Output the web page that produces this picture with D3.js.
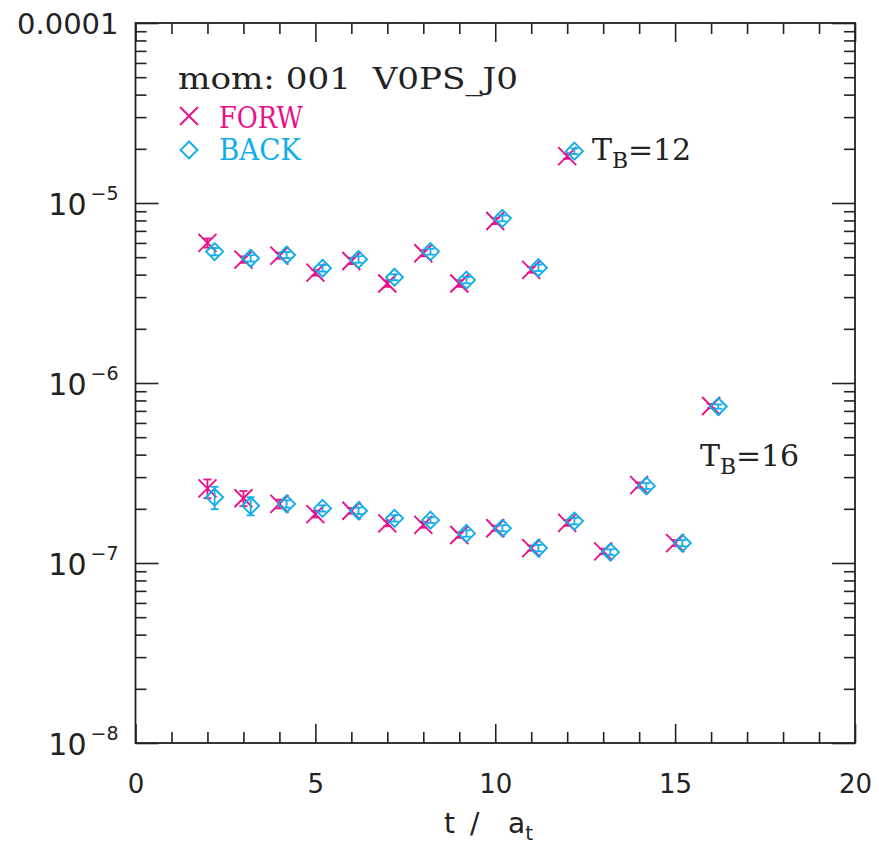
<!DOCTYPE html>
<html>
<head>
<meta charset="utf-8">
<script src="https://cdn.jsdelivr.net/npm/d3@7"></script>
<style>
  body { margin: 0; background: #fff; }
  svg { display: block; }
  .tick line { stroke: #222; stroke-width: 1.6; }
  .serif { font-family: "DejaVu Serif", serif; white-space: pre; }
</style>
</head>
<body>
<div id="chart"></div>
<script>
// t / a_t values for each source time T_B
const tB12_t = [2, 3, 4, 5, 6, 7, 8, 9, 10, 11, 12];
const tB12_forw = [6.0e-6, 4.85e-6, 5.10e-6, 4.10e-6, 4.76e-6, 3.57e-6, 5.26e-6, 3.57e-6, 7.94e-6, 4.25e-6, 1.82e-5];
const tB12_forwErr = [0.35e-6, 0.2e-6, 0.2e-6, 0.15e-6, 0.18e-6, 0.15e-6, 0.2e-6, 0.15e-6, 0.3e-6, 0.15e-6, 0.6e-6];
const tB12_back = [5.37e-6, 4.93e-6, 5.14e-6, 4.34e-6, 4.86e-6, 3.87e-6, 5.37e-6, 3.73e-6, 8.22e-6, 4.37e-6, 1.94e-5];
const tB12_backErr = [0.25e-6, 0.2e-6, 0.2e-6, 0.18e-6, 0.2e-6, 0.15e-6, 0.2e-6, 0.15e-6, 0.3e-6, 0.18e-6, 0.7e-6];

const tB16_t = [2, 3, 4, 5, 6, 7, 8, 9, 10, 11, 12, 13, 14, 15, 16];
const tB16_forw = [2.60e-7, 2.29e-7, 2.13e-7, 1.87e-7, 1.95e-7, 1.66e-7, 1.63e-7, 1.43e-7, 1.56e-7, 1.21e-7, 1.67e-7, 1.16e-7, 2.71e-7, 1.29e-7, 7.45e-7];
const tB16_forwErr = [0.31e-7, 0.22e-7, 0.12e-7, 0.08e-7, 0.07e-7, 0.06e-7, 0.06e-7, 0.05e-7, 0.05e-7, 0.04e-7, 0.06e-7, 0.04e-7, 0.09e-7, 0.05e-7, 0.2e-7];
const tB16_back = [2.32e-7, 2.08e-7, 2.13e-7, 2.01e-7, 1.95e-7, 1.77e-7, 1.73e-7, 1.46e-7, 1.56e-7, 1.21e-7, 1.71e-7, 1.15e-7, 2.68e-7, 1.29e-7, 7.40e-7];
const tB16_backErr = [0.33e-7, 0.24e-7, 0.1e-7, 0.08e-7, 0.08e-7, 0.07e-7, 0.06e-7, 0.06e-7, 0.06e-7, 0.05e-7, 0.07e-7, 0.04e-7, 0.1e-7, 0.05e-7, 0.2e-7];

const xMajor = [0, 5, 10, 15, 20];
const xMinor = d3.range(0, 21, 1);
const yMajor = [1e-8, 1e-7, 1e-6, 1e-5, 1e-4];

const FORW = "#e8118a";
const BACK = "#10aee8";
const backShift = 0.2;   // BACK points are drawn slightly to the right

const width = 879, height = 848;
const x = d3.scaleLinear().domain([0, 20]).range([135.5, 855]);
const y = d3.scaleLog().domain([1e-8, 1e-4]).range([743, 23]);

const svg = d3.select("#chart").append("svg")
    .attr("width", width)
    .attr("height", height);

// minor log ticks 2..9 in every decade
let yMinor = [];
yMajor.slice(0, -1).forEach(d => {
    for (let k = 2; k <= 9; k++) yMinor.push(d * k);
});

function addAxis(axis, tx, ty) {
    let g = svg.append("g").attr("transform", `translate(${tx},${ty})`).call(axis);
    g.select(".domain").remove();
    return g;
}

// x axes (ticks pointing inward)
let xb = addAxis(d3.axisBottom(x).tickValues(xMajor).tickSize(-19).tickPadding(32).tickFormat(d3.format("d")), 0, 743);
xb.selectAll("text").attr("font-family", "DejaVu Sans").attr("font-size", 26).attr("fill", "#222");
addAxis(d3.axisBottom(x).tickValues(xMinor.filter(d => d % 5)).tickSize(-11).tickFormat(""), 0, 743);
addAxis(d3.axisTop(x).tickValues(xMajor).tickSize(-19).tickFormat(""), 0, 23);
addAxis(d3.axisTop(x).tickValues(xMinor.filter(d => d % 5)).tickSize(-11).tickFormat(""), 0, 23);

// y axes
let yl = addAxis(d3.axisLeft(y).tickValues(yMajor).tickSize(-23).tickPadding(17), 135.5, 0);
addAxis(d3.axisLeft(y).tickValues(yMinor).tickSize(-11).tickFormat(""), 135.5, 0);
addAxis(d3.axisRight(y).tickValues(yMajor).tickSize(-23).tickFormat(""), 855, 0);
addAxis(d3.axisRight(y).tickValues(yMinor).tickSize(-11).tickFormat(""), 855, 0);

yl.selectAll("text").each(function(d) {
    let t = d3.select(this).text(null)
        .attr("font-family", "DejaVu Sans").attr("fill", "#222");
    let e = Math.round(Math.log10(d));
    if (e === -4) {
        t.attr("font-size", 29).attr("dy", "0.36em").text("0.0001");
    } else {
        t.attr("font-size", 30).attr("dy", "0.38em");
        t.append("tspan").text("10");
        t.append("tspan").attr("font-size", 19).attr("dy", -15).attr("dx", 4).text("\u2212" + (-e));
    }
});

// frame
svg.append("rect")
    .attr("x", x(0)).attr("y", y(1e-4))
    .attr("width", x(20) - x(0)).attr("height", y(1e-8) - y(1e-4))
    .attr("fill", "none").attr("stroke", "#222").attr("stroke-width", 1.8);

// x label  "t / a_t"
let xl = svg.append("text")
    .attr("y", 833)
    .attr("font-family", "DejaVu Sans").attr("font-size", 28).attr("fill", "#222");
xl.append("tspan").attr("x", 444).text("t");
xl.append("tspan").attr("x", 470).text("/");
xl.append("tspan").attr("x", 508).text("a");
xl.append("tspan").attr("font-size", 20).attr("dy", 7).text("t");

// data
function build(ts, vals, errs, shift) {
    return ts.map((t, i) => ({ t: t + shift, v: vals[i], e: errs[i] }));
}
const forwPts = build(tB12_t, tB12_forw, tB12_forwErr, 0).concat(build(tB16_t, tB16_forw, tB16_forwErr, 0));
const backPts = build(tB12_t, tB12_back, tB12_backErr, backShift).concat(build(tB16_t, tB16_back, tB16_backErr, backShift));

function errorBars(pts, color) {
    let g = svg.append("g").attr("stroke", color).attr("stroke-width", 1.8).attr("fill", "none");
    pts.forEach(p => {
        let cx = x(p.t), y0 = y(p.v - p.e), y1 = y(p.v + p.e);
        g.append("line").attr("x1", cx).attr("x2", cx).attr("y1", y0).attr("y2", y1);
        g.append("line").attr("x1", cx - 4).attr("x2", cx + 4).attr("y1", y0).attr("y2", y0);
        g.append("line").attr("x1", cx - 4).attr("x2", cx + 4).attr("y1", y1).attr("y2", y1);
    });
}

const crossPath = "M-9,-9L9,9M-9,9L9,-9";
const diamondPath = "M0,-8.5L8.5,0L0,8.5L-8.5,0Z";

errorBars(forwPts, FORW);
svg.append("g").selectAll("path").data(forwPts).join("path")
    .attr("d", crossPath)
    .attr("transform", d => `translate(${x(d.t)},${y(d.v)})`)
    .attr("stroke", FORW).attr("stroke-width", 1.9).attr("fill", "none");

errorBars(backPts, BACK);
svg.append("g").selectAll("path").data(backPts).join("path")
    .attr("d", diamondPath)
    .attr("transform", d => `translate(${x(d.t)},${y(d.v)})`)
    .attr("stroke", BACK).attr("stroke-width", 1.9).attr("fill", "none");

// legend
svg.append("text").attr("class", "serif")
    .attr("x", 178).attr("y", 89)
    .attr("font-size", 30).attr("fill", "#222")
    .attr("textLength", 340).attr("lengthAdjust", "spacingAndGlyphs")
    .text("mom: 001  V0PS_J0");

svg.append("path").attr("d", crossPath)
    .attr("transform", "translate(189,116)")
    .attr("stroke", FORW).attr("stroke-width", 1.9).attr("fill", "none");
svg.append("text").attr("class", "serif")
    .attr("x", 219).attr("y", 128)
    .attr("font-size", 30).attr("fill", FORW)
    .attr("textLength", 84).attr("lengthAdjust", "spacingAndGlyphs")
    .text("FORW");

svg.append("path").attr("d", diamondPath)
    .attr("transform", "translate(189,150)")
    .attr("stroke", BACK).attr("stroke-width", 1.9).attr("fill", "none");
svg.append("text").attr("class", "serif")
    .attr("x", 219).attr("y", 160)
    .attr("font-size", 30).attr("fill", BACK)
    .attr("textLength", 82).attr("lengthAdjust", "spacingAndGlyphs")
    .text("BACK");

// T_B annotations
function tbLabel(px, py, n) {
    let t = svg.append("text").attr("class", "serif")
        .attr("y", py)
        .attr("font-size", 30).attr("fill", "#222");
    t.append("tspan").attr("x", px).text("T");
    t.append("tspan").attr("x", px + 20).attr("font-size", 22).attr("dy", 8).text("B");
    t.append("tspan").attr("x", px + 36).attr("dy", -8).text("=");
    t.append("tspan").attr("x", px + 61).text(n);
}
tbLabel(592, 160, 12);
tbLabel(700, 466, 16);
</script>
</body>
</html>
